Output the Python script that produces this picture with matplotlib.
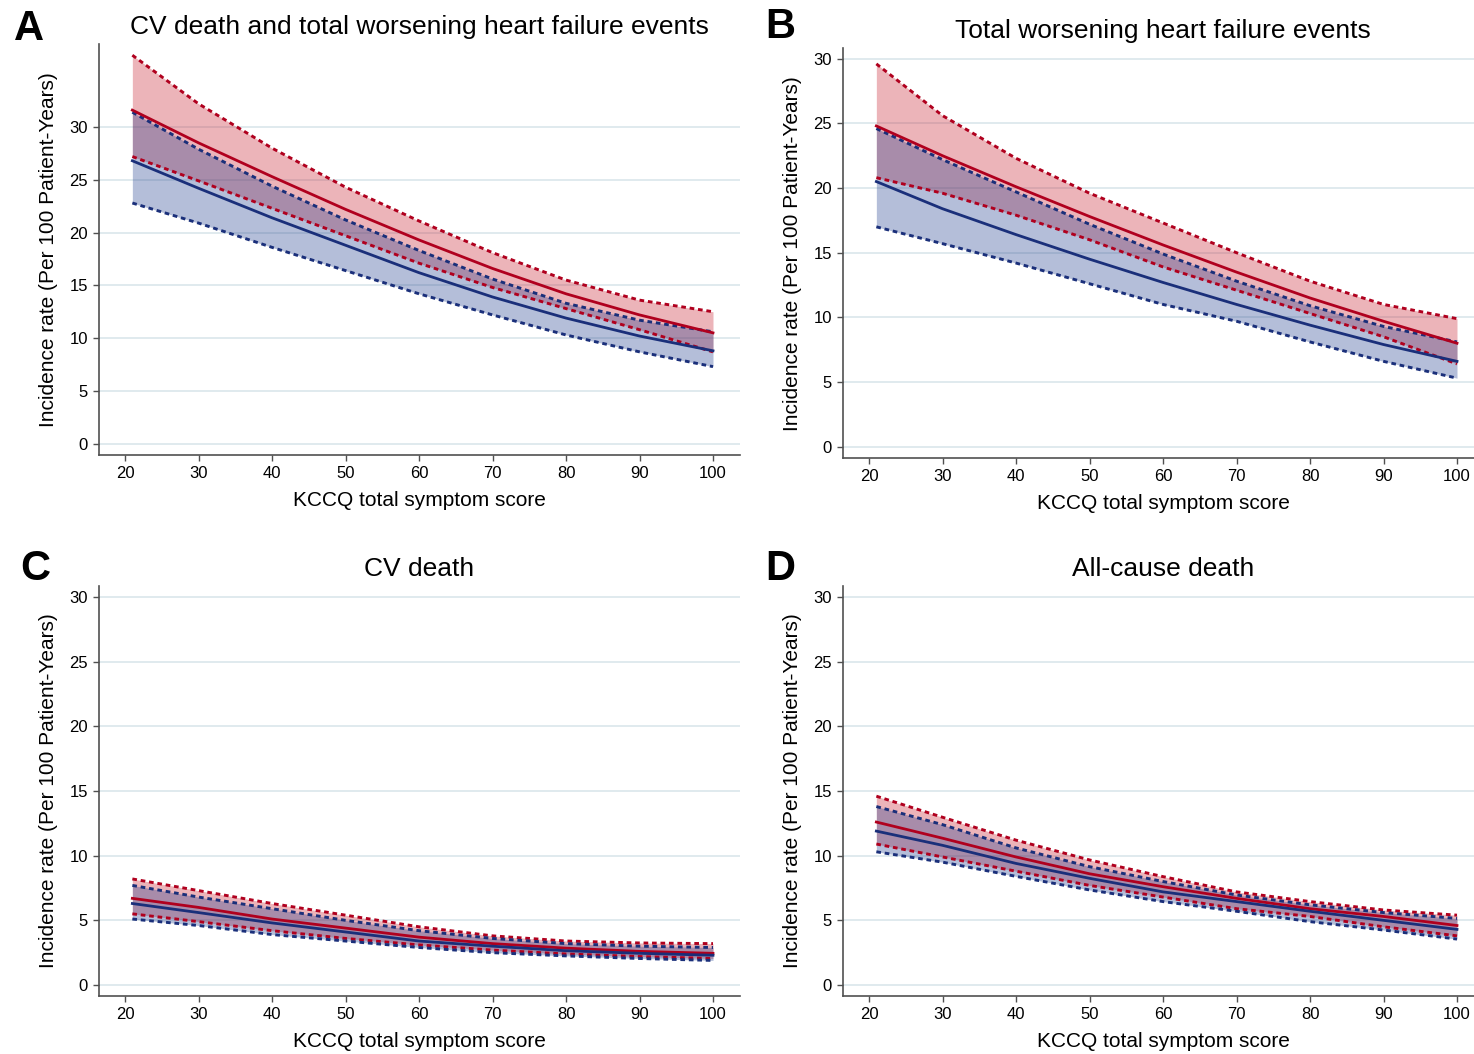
import matplotlib
matplotlib.use("Agg")
import matplotlib.pyplot as plt

plt.rcParams['font.family'] = ['Liberation Sans', 'DejaVu Sans']

# KCCQ total symptom score positions where values were read
kccq = [21, 30, 40, 50, 60, 70, 80, 90, 100]

# A: CV death and total worsening heart failure events
a_red = [31.6, 28.5, 25.3, 22.2, 19.3, 16.6, 14.2, 12.2, 10.5]
a_red_lo = [27.2, 24.9, 22.3, 19.7, 17.1, 14.8, 12.8, 10.8, 8.7]
a_red_hi = [36.8, 32.2, 28.0, 24.3, 21.1, 18.1, 15.5, 13.6, 12.5]
a_blue = [26.8, 24.2, 21.4, 18.8, 16.2, 13.9, 11.9, 10.2, 8.8]
a_blue_lo = [22.8, 20.9, 18.6, 16.4, 14.2, 12.2, 10.3, 8.7, 7.3]
a_blue_hi = [31.4, 27.9, 24.4, 21.2, 18.3, 15.6, 13.3, 11.7, 10.6]

# B: Total worsening heart failure events
b_red = [24.8, 22.5, 20.1, 17.8, 15.6, 13.5, 11.5, 9.7, 8.0]
b_red_lo = [20.8, 19.6, 17.9, 16.0, 13.9, 12.1, 10.3, 8.5, 6.4]
b_red_hi = [29.6, 25.6, 22.3, 19.6, 17.3, 15.0, 12.8, 11.0, 9.9]
b_blue = [20.5, 18.4, 16.4, 14.5, 12.7, 11.0, 9.4, 7.9, 6.6]
b_blue_lo = [17.0, 15.7, 14.2, 12.6, 11.0, 9.7, 8.1, 6.6, 5.3]
b_blue_hi = [24.6, 22.2, 19.7, 17.2, 14.9, 12.8, 10.9, 9.3, 8.1]

# C: CV death
c_red = [6.7, 6.0, 5.1, 4.4, 3.7, 3.2, 2.85, 2.6, 2.45]
c_red_lo = [5.5, 4.9, 4.2, 3.6, 3.1, 2.7, 2.4, 2.2, 2.05]
c_red_hi = [8.2, 7.3, 6.3, 5.4, 4.5, 3.8, 3.4, 3.25, 3.2]
c_blue = [6.3, 5.6, 4.8, 4.1, 3.4, 3.0, 2.65, 2.45, 2.3]
c_blue_lo = [5.1, 4.6, 3.9, 3.4, 2.9, 2.5, 2.25, 2.05, 1.9]
c_blue_hi = [7.7, 6.8, 5.9, 5.0, 4.2, 3.6, 3.2, 3.0, 2.9]

# D: All-cause death
d_red = [12.6, 11.35, 9.9, 8.6, 7.6, 6.7, 5.9, 5.3, 4.6]
d_red_lo = [10.9, 9.9, 8.8, 7.7, 6.8, 5.9, 5.3, 4.5, 3.8]
d_red_hi = [14.6, 12.97, 11.2, 9.67, 8.38, 7.2, 6.45, 5.8, 5.4]
d_blue = [11.9, 10.8, 9.4, 8.25, 7.2, 6.45, 5.7, 5.0, 4.3]
d_blue_lo = [10.3, 9.5, 8.4, 7.35, 6.45, 5.7, 4.9, 4.25, 3.55]
d_blue_hi = [13.8, 12.4, 10.6, 9.15, 8.0, 6.96, 6.2, 5.6, 5.15]

titles = ["CV death and total worsening heart failure events",
          "Total worsening heart failure events",
          "CV death",
          "All-cause death"]
letters = ["A", "B", "C", "D"]

W, H = 1474, 1054
RED = "#b0001e"
BLUE = "#1a2f7a"
RED_FILL = "#c81e2d"
BLUE_FILL = "#1e3c8c"

# pixel boxes: left, right, top, bottom, y-pixel of 0, y-pixel of 30
boxes = [
    (99, 740, 44, 455, 443.7, 127.0),
    (843, 1483, 48, 458.3, 446.7, 58.7),
    (99, 740, 586, 996, 985.0, 597.0),
    (843, 1483, 586, 996, 985.0, 597.0),
]
letter_pos = [(14, 40), (765, 38), (20, 580), (765, 580)]

panels = [
    (a_red, a_red_lo, a_red_hi, a_blue, a_blue_lo, a_blue_hi),
    (b_red, b_red_lo, b_red_hi, b_blue, b_blue_lo, b_blue_hi),
    (c_red, c_red_lo, c_red_hi, c_blue, c_blue_lo, c_blue_hi),
    (d_red, d_red_lo, d_red_hi, d_blue, d_blue_lo, d_blue_hi),
]

fig = plt.figure(figsize=(W / 100, H / 100), dpi=100)

for i, (box, series) in enumerate(zip(boxes, panels)):
    left, right, top, bottom, y0, y30 = box
    ax = fig.add_axes([left / W, 1 - bottom / H, (right - left) / W, (bottom - top) / H])
    ppu = (y0 - y30) / 30.0
    ax.set_ylim((y0 - bottom) / ppu, (y0 - top) / ppu)
    # x: 20 at left+26 px, 100 at left+614 px
    xppu = 588 / 80.0
    ax.set_xlim(20 - 26 / xppu, 20 + (right - left - 26) / xppu)

    red, red_lo, red_hi, blue, blue_lo, blue_hi = series
    ax.fill_between(kccq, red_lo, red_hi, color=RED_FILL, alpha=0.33, lw=0, zorder=2)
    ax.fill_between(kccq, blue_lo, blue_hi, color=BLUE_FILL, alpha=0.33, lw=0, zorder=2)
    dash = (0, (1.6, 1.3))
    for band, col in [(red_hi, RED), (red_lo, RED), (blue_hi, BLUE), (blue_lo, BLUE)]:
        ax.plot(kccq, band, color=col, lw=2.1, ls=dash, zorder=3)
    ax.plot(kccq, red, color=RED, lw=2.0, zorder=4, solid_joinstyle='round')
    ax.plot(kccq, blue, color=BLUE, lw=2.0, zorder=4, solid_joinstyle='round')

    ax.set_yticks(range(0, 31, 5))
    ax.set_xticks(range(20, 101, 10))
    ax.grid(axis='y', color='#e0eaee', lw=1.4, zorder=0)
    ax.set_axisbelow(True)
    for s in ['top', 'right']:
        ax.spines[s].set_visible(False)
    for s in ['left', 'bottom']:
        ax.spines[s].set_color('#505050')
        ax.spines[s].set_linewidth(1.2)
    ax.tick_params(length=4, width=1.0, color='#505050', labelsize=12, pad=4)
    ax.set_xlabel("KCCQ total symptom score", fontsize=15, labelpad=7)
    ax.set_ylabel("Incidence rate (Per 100 Patient-Years)", fontsize=15, labelpad=8)
    ax.set_title(titles[i], fontsize=19, pad=7)
    lx, ly = letter_pos[i]
    fig.text(lx / W, 1 - ly / H, letters[i], fontsize=30, fontweight='bold',
             ha='left', va='baseline')

fig.savefig("out.png", dpi=100)
